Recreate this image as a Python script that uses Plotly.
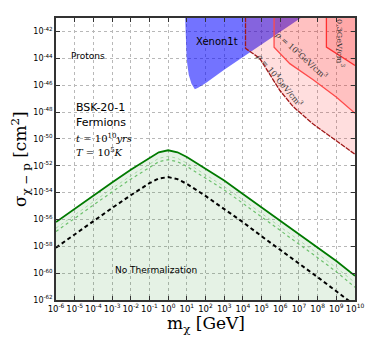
import plotly.graph_objects as go

# log10 values
MASS_LOG = [-6, -5, -4, -3, -2, -1, -0.5, 0, 0.5, 1, 2, 3, 4, 5, 6, 7, 8, 9, 10]
SIGMA_SOLID = [-56.2, -55.2, -54.2, -53.25, -52.3, -51.4, -51.0, -50.85, -51.0, -51.35,
               -52.2, -53.1, -54.1, -55.1, -56.05, -57.1, -58.1, -59.1, -60.2]
SIGMA_DOT1 = [-56.65, -55.65, -54.65, -53.7, -52.75, -51.85, -51.45, -51.3, -51.45, -51.8,
              -52.65, -53.55, -54.55, -55.55, -56.5, -57.55, -58.55, -59.6, -60.7]
SIGMA_DOT2 = [-56.9, -55.9, -54.9, -53.95, -53.0, -52.1, -51.7, -51.55, -51.7, -52.05,
              -52.9, -53.8, -54.8, -55.8, -56.8, -57.85, -58.85, -59.9, -61.05]
SIGMA_DASH = [-58.1, -57.1, -56.1, -55.15, -54.2, -53.3, -52.95, -52.85, -53.0, -53.35,
              -54.25, -55.2, -56.2, -57.25, -58.25, -59.3, -60.3, -61.35, -62.4]

XENON_M = [0.90, 0.95, 0.99, 1.05, 1.11, 1.25, 1.43, 1.6, 2.0, 3.0, 4.0, 5.0, 6.0, 7.2]
XENON_S = [-40.5, -43.0, -44.0, -44.7, -45.27, -45.9, -46.3, -46.2, -45.85, -44.85,
           -43.9, -42.95, -42.0, -40.9]

RHO4_M = [4.14, 4.14, 4.90, 5.98, 6.69, 7.76, 10.0]
RHO4_S = [-40.5, -43.26, -44.0, -46.4, -47.6, -48.9, -51.15]
RHO2_M = [5.67, 5.67, 6.51, 7.76, 9.01, 10.0]
RHO2_S = [-40.5, -43.17, -44.4, -45.6, -46.9, -48.1]
RHO03_M = [8.47, 8.47, 10.0]
RHO03_S = [-40.5, -43.17, -44.53]

X_RANGE = [-6, 10]
Y_RANGE = [-62, -41]
Y_TICKS = list(range(-62, -41, 2))
X_TICKS = list(range(-6, 11))


def p(vals):
    return [10 ** v for v in vals]


def region(xs, ys):
    # close region to the top-right corner of the axes
    return p(xs + [11, 11]), p(ys + [ys[-1], -40.5])


fig = go.Figure()

# no-thermalization area below the solid curve
fig.add_trace(go.Scatter(x=p(MASS_LOG), y=p([Y_RANGE[0] - 1] * len(MASS_LOG)),
                         mode="lines", line=dict(width=0), hoverinfo="skip"))
fig.add_trace(go.Scatter(x=p(MASS_LOG), y=p(SIGMA_SOLID), mode="lines",
                         line=dict(width=0), fill="tonexty",
                         fillcolor="rgba(0,128,0,0.1)", hoverinfo="skip"))

# Xenon1t
fig.add_trace(go.Scatter(x=p(XENON_M), y=p(XENON_S), mode="lines", fill="toself",
                         fillcolor="rgba(0,0,255,0.55)", line=dict(width=0)))

# capture regions
for xs, ys in [(RHO4_M, RHO4_S), (RHO2_M, RHO2_S), (RHO03_M, RHO03_S)]:
    rx, ry = region(xs, ys)
    fig.add_trace(go.Scatter(x=rx, y=ry, mode="lines", fill="toself",
                             fillcolor="rgba(255,0,0,0.13)", line=dict(width=0)))

fig.add_trace(go.Scatter(x=p(RHO4_M), y=p(RHO4_S), mode="lines",
                         line=dict(color="#a01818", width=1.3, dash="5px,1px")))
fig.add_trace(go.Scatter(x=p(RHO2_M), y=p(RHO2_S), mode="lines",
                         line=dict(color="#ff4a4a", width=1.3)))
fig.add_trace(go.Scatter(x=p(RHO03_M), y=p(RHO03_S), mode="lines",
                         line=dict(color="#ff3030", width=1.3)))

# thermalization curves
fig.add_trace(go.Scatter(x=p(MASS_LOG), y=p(SIGMA_DOT2), mode="lines",
                         line=dict(color="#6cc06c", width=1.2, dash="dot")))
fig.add_trace(go.Scatter(x=p(MASS_LOG), y=p(SIGMA_DOT1), mode="lines",
                         line=dict(color="#9ad49a", width=0.8, dash="dot")))
fig.add_trace(go.Scatter(x=p(MASS_LOG), y=p(SIGMA_SOLID), mode="lines",
                         line=dict(color="#007a00", width=1.8)))
fig.add_trace(go.Scatter(x=p(MASS_LOG), y=p(SIGMA_DASH), mode="lines",
                         line=dict(color="black", width=2, dash="4px,3px")))

serif = "DejaVu Serif"
sans = "DejaVu Sans"
notes = [
    dict(x=-5.3, y=-43.8, text="Protons", size=9, font=sans),
    dict(x=1.38, y=-42.72, text="Xenon1t", size=10, font=sans),
    dict(x=-5.04, y=-47.7, text="BSK-20-1", size=11, font=sans),
    dict(x=-5.04, y=-48.8, text="Fermions", size=11, font=sans),
    dict(x=-5.04, y=-49.9, text="<i>t</i> = 10<sup>10</sup><i>yrs</i>", size=10, font=serif),
    dict(x=-5.04, y=-51.0, text="<i>T</i> = 10<sup>5</sup><i>K</i>", size=10, font=serif),
    dict(x=-2.97, y=-59.77, text="No Thermalization", size=9, font=sans),
]
for n in notes:
    fig.add_annotation(x=n["x"], y=n["y"], text=n["text"], showarrow=False,
                       xanchor="left", font=dict(family=n["font"], size=n["size"],
                                                 color="black"))

for x, y, txt, ang in [
    (5.98, -45.64, "<i>ρ</i> = 10<sup>4</sup>GeV/cm<sup>3</sup>", 50),
    (7.14, -43.78, "<i>ρ</i> = 10<sup>2</sup>GeV/cm<sup>3</sup>", 42),
    (9.24, -42.85, "0.3GeV/cm<sup>3</sup>", 90),
]:
    fig.add_annotation(x=x, y=y, text=txt, showarrow=False, textangle=ang,
                       font=dict(family=serif, size=8, color="#333"))

# axis titles
fig.add_annotation(x=0.5, y=-0.088, xref="paper", yref="paper", yanchor="middle",
                   text="m<sub>χ</sub> [GeV]", showarrow=False,
                   font=dict(family=serif, size=17, color="black"))
fig.add_annotation(x=-0.12, y=0.5, xref="paper", yref="paper", xanchor="center",
                   text="σ<sub>χ − p</sub> [cm<sup>2</sup>]", showarrow=False, textangle=-90,
                   font=dict(family=serif, size=17, color="black"))

axis_common = dict(
    type="log", ticks="inside", ticklen=4, tickcolor="#333", mirror="ticks",
    showline=True, linecolor="#333", linewidth=1.5, automargin=False,
    showgrid=True, gridcolor="#b8b8b8", griddash="dot", gridwidth=1, tickangle=0,
)

# page body adds an 8px offset, so the figure is sized to fit inside it
fig.update_layout(
    width=358, height=338,
    showlegend=False,
    plot_bgcolor="white", paper_bgcolor="white",
    margin=dict(l=48, r=11, t=10, b=46),
    xaxis=dict(range=X_RANGE, tickvals=p(X_TICKS),
               ticktext=[f"10<sup>{t}</sup>" for t in X_TICKS],
               tickfont=dict(family=sans, size=8.5, color="black"), **axis_common),
    yaxis=dict(range=Y_RANGE, tickvals=p(Y_TICKS),
               ticktext=[f"10<sup>{t}</sup>" for t in Y_TICKS],
               tickfont=dict(family=sans, size=8, color="black"), **axis_common),
)

fig.write_html("out.html")
